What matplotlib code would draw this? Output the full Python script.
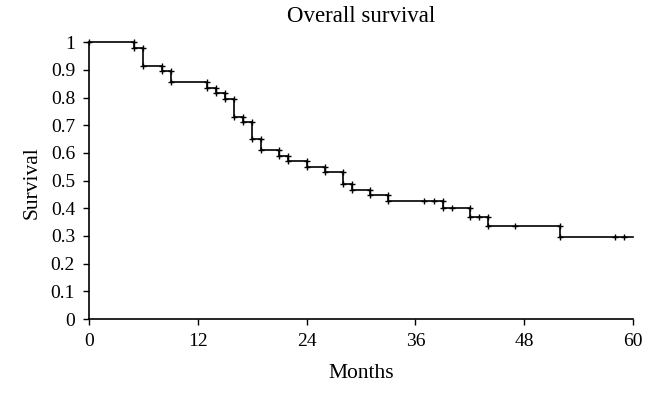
import matplotlib
matplotlib.use("Agg")
import matplotlib.pyplot as plt
import numpy as np

plt.rcParams['font.family'] = ['Liberation Serif', 'DejaVu Serif']

# event times (months) and survival after each step
event_times = [0, 5, 6, 8, 9, 13, 14, 15, 16, 17, 18, 19, 21, 22, 24, 26,
               28, 29, 31, 33, 39, 42, 44, 52]
survival = [1.0, 0.978, 0.915, 0.896, 0.855, 0.836, 0.816, 0.795, 0.731,
            0.711, 0.650, 0.610, 0.589, 0.570, 0.548, 0.530, 0.488, 0.467,
            0.447, 0.428, 0.400, 0.370, 0.336, 0.297]
censor_times = [37, 38, 40, 43, 47, 58, 59]
end_time = 60

x_ticks = [0, 12, 24, 36, 48, 60]
y_ticks = [0, 0.1, 0.2, 0.3, 0.4, 0.5, 0.6, 0.7, 0.8, 0.9, 1]
y_labels = ["0", "0.1", "0.2", "0.3", "0.4", "0.5", "0.6", "0.7", "0.8", "0.9", "1"]

W, H = 656, 393
fig = plt.figure(figsize=(W / 100, H / 100), dpi=100)
ax = fig.add_axes([89 / W, 1 - 319 / H, (633 - 89) / W, (319 - 42.3) / H])

# step curve
xs = event_times + [end_time]
ys = survival + [survival[-1]]
ax.step(xs, ys, where='post', color='black', lw=1.2, clip_on=False)

# markers at both ends of every drop
mx, my = [event_times[0]], [survival[0]]
for i in range(1, len(event_times)):
    mx += [event_times[i], event_times[i]]
    my += [survival[i - 1], survival[i]]
# censored marks on the flat parts
for t in censor_times:
    idx = np.searchsorted(event_times, t, side='right') - 1
    mx.append(t)
    my.append(survival[idx])
ax.plot(mx, my, ls='none', marker='+', ms=5, mew=1.0, color='black', clip_on=False)

ax.set_xlim(0, 60)
ax.set_ylim(0, 1)
ax.set_xticks(x_ticks)
ax.set_xticklabels([str(t) for t in x_ticks])
ax.set_yticks(y_ticks)
ax.set_yticklabels(y_labels)
ax.spines['top'].set_visible(False)
ax.spines['right'].set_visible(False)
ax.spines['left'].set_linewidth(1.2)
ax.spines['bottom'].set_linewidth(1.2)
ax.tick_params(direction='out', length=4, width=1.0, labelsize=14)
ax.tick_params(axis='x', pad=6)
ax.tick_params(axis='y', pad=6)

fig.text((89 + 633) / 2 / W, 1 - 16 / H, "Overall survival", fontsize=16.5,
         ha='center', va='center')
fig.text((89 + 633) / 2 / W, 1 - 373 / H, "Months", fontsize=15.5,
         ha='center', va='center')
fig.text(32 / W, 1 - 183 / H, "Survival", fontsize=15.5, rotation=90,
         ha='center', va='center')

fig.savefig("out.png", dpi=100)
